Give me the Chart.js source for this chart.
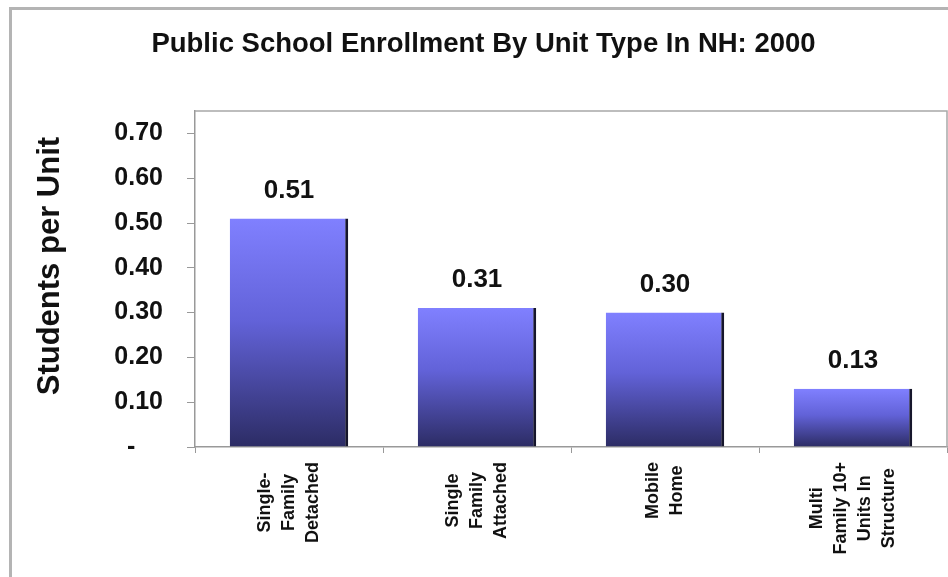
<!DOCTYPE html>
<html lang="en">
<head>
  <meta charset="UTF-8">
  <title>Public School Enrollment By Unit Type In NH: 2000</title>
  <script src="https://cdn.jsdelivr.net/npm/chart.js"></script>
  <style>
    body {
      margin: 0;
      background: #ffffff;
      overflow: hidden;
    }
    #wrap {
      position: relative;
      width: 948px;
      height: 577px;
      overflow: hidden;
    }
    #frame {
      position: absolute;
      left: 9px;
      top: 7px;
      width: 1000px;
      height: 700px;
      border: 3px solid #b4b4b4;
    }
    canvas {
      position: absolute;
      left: 0;
      top: 0;
    }
  </style>
</head>
<body>
  <div id="wrap">
    <div id="frame"></div>
    <canvas id="enrollChart" width="948" height="577"></canvas>
  </div>

  <script>
    const unitTypes = [
      ['Single-', 'Family', 'Detached'],
      ['Single', 'Family', 'Attached'],
      ['Mobile', 'Home'],
      ['Multi', 'Family 10+', 'Units In', 'Structure']
    ];
    const studentsPerUnit = [0.51, 0.31, 0.30, 0.13];
    const valueLabels = ['0.51', '0.31', '0.30', '0.13'];
    const yTickLabels = ['-    ', '0.10', '0.20', '0.30', '0.40', '0.50', '0.60', '0.70'];

    const FONT = 'Arial, "Liberation Sans", sans-serif';

    // bar labels above each bar, and the rotated category names under the axis
    const labelPlugin = {
      id: 'labels',
      afterDatasetsDraw(chart) {
        const ctx = chart.ctx;
        const meta = chart.getDatasetMeta(0);
        ctx.save();
        ctx.fillStyle = '#111';
        ctx.font = 'bold 26px ' + FONT;
        ctx.textAlign = 'center';
        ctx.textBaseline = 'middle';
        meta.data.forEach((bar, i) => {
          ctx.fillText(valueLabels[i], bar.x, bar.y - 28);
        });

        const x = chart.scales.x;
        ctx.font = 'bold 18px ' + FONT;
        unitTypes.forEach((lines, i) => {
          const cx = x.getPixelForValue(i);
          const maxW = Math.max(...lines.map(l => ctx.measureText(l).width));
          const cy = x.top + 15 + maxW / 2;
          const step = 24;
          lines.forEach((line, j) => {
            const lx = cx + (j - (lines.length - 1) / 2) * step;
            ctx.save();
            ctx.translate(lx, cy);
            ctx.rotate(-Math.PI / 2);
            ctx.fillText(line, 0, 0);
            ctx.restore();
          });
        });

        // plot area top and right edges
        const a = chart.chartArea;
        ctx.strokeStyle = '#a8a8a8';
        ctx.lineWidth = 1.5;
        ctx.beginPath();
        ctx.moveTo(a.left, a.top);
        ctx.lineTo(a.right, a.top);
        ctx.lineTo(a.right, a.bottom);
        ctx.stroke();
        ctx.restore();
      }
    };

    function barGradient(c) {
      const chart = c.chart;
      if (!chart.chartArea || c.type !== 'data') return '#5d5dd0';
      const y = chart.scales.y;
      const top = y.getPixelForValue(c.raw);
      const bottom = y.getPixelForValue(0);
      const g = chart.ctx.createLinearGradient(0, top, 0, bottom);
      g.addColorStop(0, '#8080ff');
      g.addColorStop(0.45, '#6262d8');
      g.addColorStop(1, '#2c2c64');
      return g;
    }

    new Chart(document.getElementById('enrollChart'), {
      type: 'bar',
      data: {
        labels: unitTypes.map(l => l.join(' ')),
        datasets: [{
          data: studentsPerUnit,
          backgroundColor: barGradient,
          borderColor: '#16162c',
          borderWidth: { top: 0, left: 0, bottom: 0, right: 3 },
          borderSkipped: false,
          categoryPercentage: 1,
          barPercentage: 0.63
        }]
      },
      options: {
        responsive: false,
        animation: false,
        layout: { padding: { left: 20, right: 1, top: 0, bottom: 0 } },
        plugins: {
          legend: { display: false },
          tooltip: { enabled: false },
          title: {
            display: true,
            text: 'Public School Enrollment By Unit Type In NH: 2000',
            color: '#111',
            font: { family: FONT, size: 27.5, weight: 'bold' },
            padding: { top: 28, bottom: 50 }
          }
        },
        scales: {
          x: {
            ticks: { display: false },
            grid: {
              offset: true,
              drawOnChartArea: false,
              drawTicks: true,
              tickLength: 6,
              color: '#999'
            },
            border: { display: true, color: '#999', width: 1.5 },
            afterFit(scale) { scale.height = 130; }
          },
          y: {
            min: 0,
            max: 0.75,
            ticks: {
              stepSize: 0.1,
              includeBounds: false,
              padding: 24,
              color: '#111',
              font: { family: FONT, size: 25, weight: 'bold' },
              callback: (v, i) => yTickLabels[i]
            },
            grid: {
              drawOnChartArea: false,
              drawTicks: true,
              tickLength: 8,
              color: '#999'
            },
            border: { display: true, color: '#999', width: 1.5 },
            title: {
              display: true,
              text: '   Students per Unit',
              color: '#111',
              font: { family: FONT, size: 31, weight: 'bold' },
              padding: { top: 12, bottom: 0 }
            },
            afterFit(scale) { scale.width = 175; }
          }
        }
      },
      plugins: [labelPlugin]
    });
  </script>
</body>
</html>
